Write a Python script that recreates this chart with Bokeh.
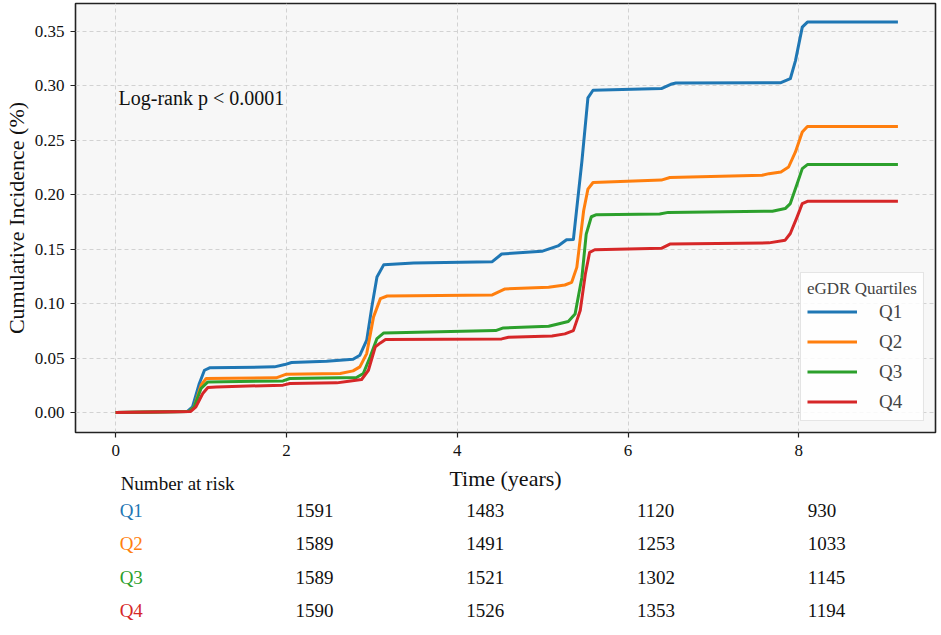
from bokeh.plotting import figure
from bokeh.models import Range1d, FixedTicker, NumeralTickFormatter, Label, ColumnDataSource
from bokeh.layouts import column
from bokeh.core.properties import value
from bokeh.embed import file_html
from bokeh.resources import INLINE

# ---------------- data ----------------
series_names = ["Q1", "Q2", "Q3", "Q4"]
series_colors = ["#1f77b4", "#ff7f0e", "#2ca02c", "#d62728"]

q1_t = [0, 0.84, 0.90, 0.98, 1.04, 1.10, 1.86, 1.98, 2.06, 2.47, 2.78, 2.86, 2.94, 3.00, 3.06,
        3.14, 3.49, 4.41, 4.52, 4.99, 5.18, 5.28, 5.36, 5.46, 5.53, 5.59, 6.39, 6.50, 6.56, 7.79,
        7.90, 7.96, 8.04, 8.10, 9.16]
q1_v = [0, 0.001, 0.0052, 0.0266, 0.0388, 0.041, 0.0419, 0.044, 0.0459, 0.0471, 0.0489, 0.0526,
        0.0664, 0.097, 0.1245, 0.1358, 0.1373, 0.1385, 0.1456, 0.148, 0.153, 0.1587, 0.159, 0.231,
        0.289, 0.296, 0.2976, 0.3015, 0.3026, 0.303, 0.3066, 0.323, 0.354, 0.3586, 0.3586]

q2_t = [0, 0.86, 0.92, 1.00, 1.06, 1.88, 2.00, 2.63, 2.78, 2.86, 2.94, 3.02, 3.10, 3.18, 4.41,
        4.56, 5.07, 5.26, 5.34, 5.40, 5.48, 5.53, 5.59, 6.39, 6.49, 7.57, 7.65, 7.79, 7.88, 7.96,
        8.04, 8.10, 9.16]
q2_v = [0, 0.001, 0.005, 0.025, 0.0312, 0.0318, 0.0352, 0.0358, 0.0382, 0.0419, 0.0541, 0.0878,
        0.1046, 0.107, 0.108, 0.1135, 0.115, 0.1171, 0.1196, 0.1333, 0.1853, 0.2052, 0.2113,
        0.2135, 0.2159, 0.2179, 0.2194, 0.221, 0.2255, 0.2393, 0.2577, 0.2628, 0.2628]

q3_t = [0, 0.86, 0.92, 1.00, 1.08, 1.96, 2.04, 2.82, 2.90, 2.98, 3.06, 3.14, 4.45, 4.54, 5.07,
        5.18, 5.30, 5.38, 5.46, 5.51, 5.57, 5.63, 6.37, 6.47, 7.69, 7.84, 7.90, 7.98, 8.04, 8.10,
        9.16]
q3_v = [0, 0.001, 0.005, 0.022, 0.0281, 0.029, 0.0312, 0.0321, 0.0358, 0.0511, 0.0679, 0.0731,
        0.0752, 0.0777, 0.0792, 0.0813, 0.0835, 0.0905, 0.1242, 0.1639, 0.1798, 0.1817, 0.1823,
        0.1838, 0.1849, 0.1873, 0.1919, 0.2102, 0.224, 0.2277, 0.2277]

q4_t = [0, 0.88, 0.94, 1.02, 1.08, 1.18, 1.96, 2.04, 2.59, 2.75, 2.88, 2.96, 3.04, 3.10, 3.16,
        4.52, 4.60, 5.11, 5.26, 5.36, 5.44, 5.50, 5.55, 5.61, 6.39, 6.49, 7.65, 7.84, 7.90, 7.98,
        8.04, 8.10, 9.16]
q4_v = [0, 0.001, 0.0052, 0.0174, 0.0229, 0.0235, 0.0251, 0.0266, 0.0272, 0.029, 0.0303, 0.0388,
        0.0602, 0.0639, 0.067, 0.0676, 0.0691, 0.0703, 0.0722, 0.0752, 0.0936, 0.1272, 0.1471,
        0.1495, 0.1508, 0.1547, 0.1558, 0.1583, 0.1644, 0.1797, 0.1919, 0.194, 0.194]

x_ticks = [0, 2, 4, 6, 8]
y_ticks = [0.00, 0.05, 0.10, 0.15, 0.20, 0.25, 0.30, 0.35]

risk_times = [2, 4, 6, 8]
risk_q1 = [1591, 1483, 1120, 930]
risk_q2 = [1589, 1491, 1253, 1033]
risk_q3 = [1589, 1521, 1302, 1145]
risk_q4 = [1590, 1526, 1353, 1194]

pvalue_text = "Log-rank p < 0.0001"
legend_title = "eGDR Quartiles"
risk_title = "Number at risk"
x_label = "Time (years)"
y_label = "Cumulative Incidence (%)"

# ---------------- layout constants ----------------
FONT = "Liberation Serif"
W = 940
MAIN_H = 464
TABLE_H = 170
LEFT = 74
RIGHT = 5

xr = Range1d(-0.47, 9.6)

# ---------------- main figure ----------------
p = figure(width=W, height=MAIN_H, output_backend="svg", toolbar_location=None,
           x_range=xr, y_range=Range1d(-0.0184, 0.3757),
           min_border_left=LEFT, min_border_right=RIGHT, min_border_top=3, min_border_bottom=32,
           background_fill_color="#f7f7f7", border_fill_color="white")

all_t = [q1_t, q2_t, q3_t, q4_t]
all_v = [q1_v, q2_v, q3_v, q4_v]
for t, v, name, col in zip(all_t, all_v, series_names, series_colors):
    p.line(t, v, line_width=3, line_color=col, line_join="round", legend_label=name)

for g in (p.xgrid, p.ygrid):
    g.grid_line_color = "#d2d2d2"
    g.grid_line_dash = "4 3"
    g.grid_line_width = 1

p.outline_line_color = "#222222"
p.outline_line_width = 1.6

p.xaxis.ticker = FixedTicker(ticks=x_ticks)
p.yaxis.ticker = FixedTicker(ticks=y_ticks)
p.yaxis.formatter = NumeralTickFormatter(format="0.00")
p.yaxis.axis_label = y_label
for ax in (p.xaxis, p.yaxis):
    ax.axis_line_color = None
    ax.major_tick_line_color = "#222222"
    ax.major_tick_line_width = 1.2
    ax.major_tick_out = 5
    ax.major_tick_in = 0
    ax.minor_tick_line_color = None
    ax.major_label_text_font = FONT
    ax.major_label_text_font_size = "17px"
    ax.major_label_text_color = "#111111"
    ax.axis_label_text_font = FONT
    ax.axis_label_text_font_style = "normal"
    ax.axis_label_text_font_size = "22px"
    ax.axis_label_text_color = "#111111"
p.xaxis.major_label_standoff = 7
p.yaxis.major_label_standoff = 6
p.yaxis.axis_label_standoff = 3

lg = p.legend[0]
lg.location = "bottom_right"
lg.title = legend_title
lg.title_text_font = FONT
lg.title_text_font_size = "17px"
lg.title_text_font_style = "normal"
lg.title_standoff = 0
lg.label_text_font = FONT
lg.label_text_font_size = "19px"
lg.glyph_width = 50
lg.glyph_height = 25
lg.label_height = 25
lg.label_standoff = 22
lg.spacing = 5
lg.padding = 6
lg.margin = 11
lg.border_line_color = "#cccccc"
lg.border_line_width = 1
lg.background_fill_color = "white"
lg.background_fill_alpha = 0.85

p.add_layout(Label(x=43, y=335, x_units="screen", y_units="screen", text=pvalue_text,
                   text_font=FONT, text_font_size="20px", text_color="#111111",
                   text_baseline="middle", text_align="left"))

# ---------------- number-at-risk table figure ----------------
tb = figure(width=W, height=TABLE_H, output_backend="svg", toolbar_location=None,
            x_range=xr, y_range=Range1d(TABLE_H, 0),
            x_axis_location=None, y_axis_location=None,
            min_border_left=LEFT, min_border_right=RIGHT, min_border_top=0, min_border_bottom=0,
            background_fill_color="white", border_fill_color="white")
tb.xgrid.visible = False
tb.ygrid.visible = False
tb.outline_line_color = None

row_y = [46, 79, 113, 146]
risk_rows = [risk_q1, risk_q2, risk_q3, risk_q4]

# axis title (centred under the frame)
tb.text(x=[(xr.start + xr.end) / 2], y=[14], text=[x_label], text_font=value(FONT),
        text_font_size=value("22px"), text_color="#111111", text_align="center",
        text_baseline="middle")

# header
tb.text(x=[0], y=[19], text=[risk_title], x_offset=5, text_font=value(FONT),
        text_font_size=value("19px"), text_color="#111111", text_align="left",
        text_baseline="middle")

# row labels
tb.text(x=[0] * len(series_names), y=row_y, text=series_names, x_offset=4,
        text_font=value(FONT), text_font_size=value("19px"),
        text_color=series_colors, text_align="left", text_baseline="middle")

# counts
cx, cy, ct = [], [], []
for ry, counts in zip(row_y, risk_rows):
    for t, n in zip(risk_times, counts):
        cx.append(t)
        cy.append(ry)
        ct.append(str(n))
src = ColumnDataSource(dict(x=cx, y=cy, text=ct))
tb.text(x="x", y="y", text="text", source=src, x_offset=9, text_font=value(FONT),
        text_font_size=value("19px"), text_color="#111111", text_align="left",
        text_baseline="middle")

layout = column(p, tb)
open("out.html", "w").write(file_html(layout, INLINE))
